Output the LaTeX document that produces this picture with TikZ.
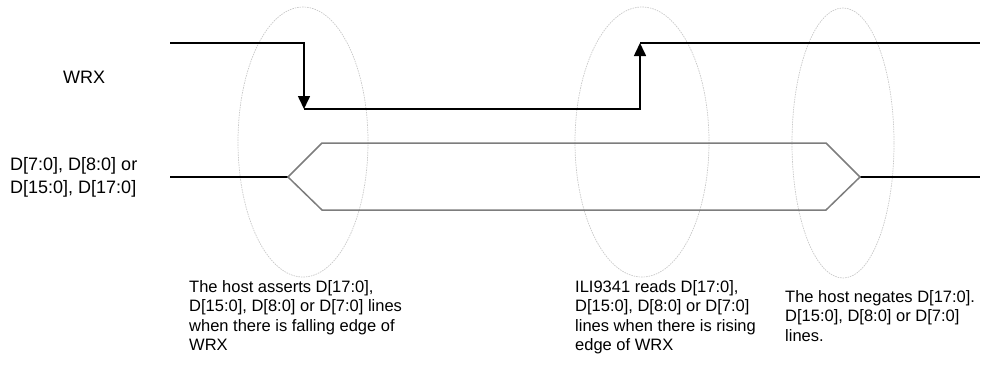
\documentclass[tikz,border=0pt]{standalone}
\usepackage{fontspec}
\setmainfont{Liberation Sans}
\usetikzlibrary{arrows.meta,calc}
\definecolor{busgray}{RGB}{125,125,125}
\definecolor{ringgray}{RGB}{200,200,200}

\begin{document}
\begin{tikzpicture}[x=1pt, y=-1pt,
    sig/.style={line width=1.6pt, black},
    bus/.style={line width=1.5pt, busgray},
    ring/.style={draw=ringgray, line width=0.7pt, dash pattern=on 1.5pt off 1pt},
    edgetip/.style={-{Triangle[width=12pt,length=13pt]}},
    lbl/.style={font=\fontsize{18}{23}\selectfont, align=left, anchor=west, inner sep=0pt},
    note/.style={font=\fontsize{16.5}{19.5}\selectfont, align=left, anchor=north west, inner sep=0pt}
  ]
  \useasboundingbox (0,0) rectangle (1007,376);
  \draw[ring] (303,142) ellipse [x radius=65, y radius=135];
  \draw[ring] (642,142) ellipse [x radius=67, y radius=135];
  \draw[ring] (843,143) ellipse [x radius=51, y radius=135];

  \coordinate (wStart) at (170,43);
  \coordinate (wFall)  at (304,109);
  \coordinate (wRise)  at (640,43);
  \coordinate (wEnd)   at (980,43);
  \draw[sig, edgetip] (wStart) -| (wFall);
  \draw[sig, edgetip] (wFall) -| (wRise);
  \draw[sig] (wRise) -- (wEnd);

  \coordinate (dStart) at (170,177);
  \coordinate (dOpen)  at (288,177);
  \coordinate (dClose) at (860,177);
  \coordinate (dEnd)   at (980,177);
  \draw[sig] (dStart) -- (dOpen);
  \draw[sig] (dClose) -- (dEnd);
  \draw[bus] (dOpen) -- ++(34,-34) -- ($(dClose)+(-34,-34)$) -- (dClose)
             -- ++(-34,33) -- ($(dOpen)+(34,33)$) -- cycle;

  \node[lbl] (wrx) at (63,77) {WRX};
  \node[lbl] (data) at (10,177) {D[7:0], D[8:0] or\\D[15:0], D[17:0]};

  \node[note] (assert) at (189,280) {The host asserts D[17:0],\\D[15:0], D[8:0] or D[7:0] lines\\when there is falling edge of\\WRX};
  \node[note] (read) at (575,280) {ILI9341 reads D[17:0],\\D[15:0], D[8:0] or D[7:0]\\lines when there is rising\\edge of WRX};
  \node[note] (negate) at (785,290) {The host negates D[17:0].\\D[15:0], D[8:0] or D[7:0]\\lines.};
\end{tikzpicture}
\end{document}
